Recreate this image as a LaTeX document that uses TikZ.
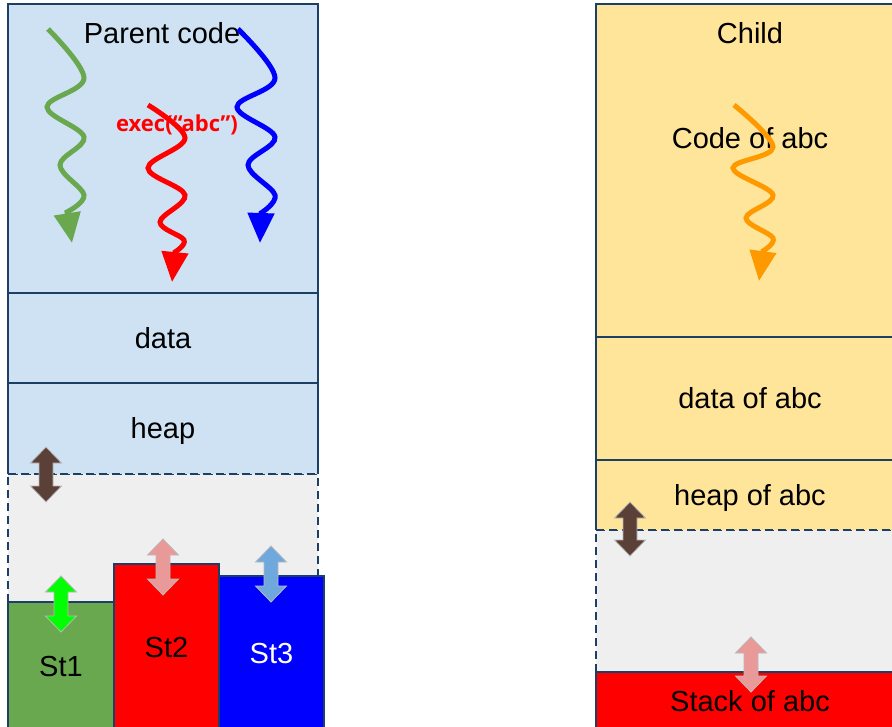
\documentclass[tikz,border=0pt]{standalone}
\usepackage{fontspec}
\setmainfont{Liberation Sans}
\newfontfamily\execfont{Open Sans}
\usetikzlibrary{arrows.meta}

\definecolor{frame}{HTML}{1C3F66}
\definecolor{pblue}{HTML}{CFE2F3}
\definecolor{cyellow}{HTML}{FFE599}
\definecolor{gapgray}{HTML}{EFEFEF}
\definecolor{stgreen}{HTML}{6AA84F}
\definecolor{wgreen}{HTML}{6AA84F}
\definecolor{worange}{HTML}{FF9900}
\definecolor{abrown}{HTML}{5B4037}
\definecolor{apink}{HTML}{EA9999}
\definecolor{alblue}{HTML}{6FA8DC}
\definecolor{alime}{HTML}{00FF00}

% vertical two-headed block arrow: x, top y, bottom y, fill colour
\newcommand\vdarrow[4]{%
  \filldraw[fill=#4, draw=gray!55, line width=0.8pt]
    (#1,#2) -- ({#1+15.5},{#2+16}) -- ({#1+7},{#2+16}) -- ({#1+7},{#3-16})
    -- ({#1+15.5},{#3-16}) -- (#1,#3) -- ({#1-15.5},{#3-16}) -- ({#1-7},{#3-16})
    -- ({#1-7},{#2+16}) -- ({#1-15.5},{#2+16}) -- cycle;}

\begin{document}
\begin{tikzpicture}[x=1pt,y=-1pt,
  txt/.style={inner sep=0pt, text height=20pt, text depth=0pt,
              font=\fontsize{29}{34}\selectfont},
  box/.style={txt, draw=frame, line width=2.2pt},
  plainbox/.style={txt},
  lbl/.style={txt},
  edge/.style={draw=frame, line width=2.2pt},
  dashedge/.style={draw=frame, line width=2.2pt, dash pattern=on 8pt off 5pt},
  wave/.style={line width=5pt, -{Triangle[length=30pt,width=26pt]}}]

\useasboundingbox (0,0) rectangle (892,726);
\clip (0,0) rectangle (892,726);

% ---------------- parent process ----------------
\fill[gapgray] (8,474) rectangle (318,602);
\draw[dashedge] (8,602) -- (8,474) -- (318,474) -- (318,602);

\node[box, fill=pblue, minimum width=310pt, minimum height=289pt] (pcode) at (163,148.5) {};
\node[box, fill=pblue, minimum width=310pt, minimum height=90pt] (pdata) at (163,338) {data};
\node[plainbox, fill=pblue, minimum width=310pt, minimum height=91pt] (pheap) at (163,428.5) {heap};
\draw[edge] (pheap.south west) -- (pheap.north west) -- (pheap.north east) -- (pheap.south east);
\draw[dashedge] (pheap.south west) -- (pheap.south east);

\node[box, fill=stgreen, minimum width=106pt, minimum height=128pt] (st1) at (61,666) {St1};
\node[box, fill=red, minimum width=105pt, minimum height=166pt] (st2) at (166.5,647) {St2};
\node[box, fill=blue, text=white, minimum width=105pt, minimum height=154pt] (st3) at (271.5,653) {St3};

\node[lbl] (ptitle) at (162,33) {Parent code};
\node[inner sep=0pt, text=red, font=\execfont\bfseries\fontsize{22}{26}\selectfont] (pexec) at (177,125) {exec(“abc”)};

\draw[wave, wgreen] plot[smooth, tension=0.6] coordinates
  {(48,29) (84,78) (47,107) (84,137) (60,165) (84,195) (67,212)} -- (72,243);
\draw[wave, red] plot[smooth, tension=0.6] coordinates
  {(148,105) (185,138) (148,168) (185,195) (160,222) (184,240) (175,252)} -- (172,282);
\draw[wave, blue] plot[smooth, tension=0.6] coordinates
  {(238,29) (275,78) (237,107) (275,137) (248,165) (275,195) (261,213)} -- (260,243);

\vdarrow{46}{447}{502}{abrown}
\vdarrow{61}{576}{632}{alime}
\vdarrow{163}{539}{595}{apink}
\vdarrow{271}{546}{602}{alblue}

% ---------------- child process ----------------
\fill[gapgray] (596,530) rectangle (904,672);
\draw[dashedge] (596,672) -- (596,530) -- (904,530);

\node[box, fill=cyellow, minimum width=308pt, minimum height=333pt] (ccode) at (750,170.5) {};
\node[box, fill=cyellow, minimum width=308pt, minimum height=123pt] (cdata) at (750,398.5) {data of abc};
\node[plainbox, fill=cyellow, minimum width=308pt, minimum height=70pt] (cheap) at (750,495) {heap of abc};
\draw[edge] (cheap.south west) -- (cheap.north west) -- (cheap.north east) -- (cheap.south east);
\draw[dashedge] (cheap.south west) -- (cheap.south east);
\node[box, fill=red, minimum width=308pt, minimum height=58pt] (cstack) at (750,701) {Stack of abc};

\node[lbl] (ctitle) at (750,33) {Child};
\node[lbl] (ccodelbl) at (750,138) {Code of abc};

\draw[wave, worange] plot[smooth, tension=0.6] coordinates
  {(734,105) (773,147) (733,168) (773,195) (746,218) (773,238) (763,251)} -- (759,281);

\vdarrow{630}{502}{556}{abrown}
\vdarrow{751}{637}{692}{apink}
\end{tikzpicture}
\end{document}
